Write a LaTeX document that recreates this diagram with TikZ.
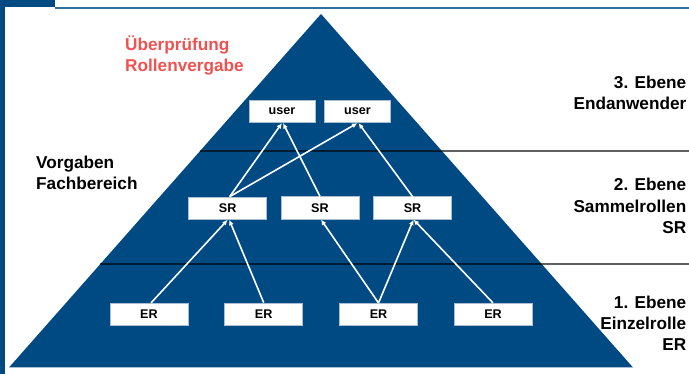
\documentclass[tikz,border=0pt]{standalone}
\usepackage{fontspec}
\setmainfont{Liberation Sans}
\usetikzlibrary{arrows.meta}
\definecolor{navy}{RGB}{0,74,132}
\definecolor{topline}{RGB}{52,110,158}
\definecolor{redtxt}{RGB}{240,82,82}
\definecolor{boxedge}{RGB}{170,190,210}
\tikzset{
  rolebox/.style={fill=white, draw=boxedge, line width=0.6pt, inner sep=0pt,
    minimum width=78pt, minimum height=22.5pt, font=\fontsize{12.6}{14}\selectfont\bfseries},
  userbox/.style={rolebox, minimum width=66pt},
  arr/.style={draw=white, line width=1.6pt, -{Latex[length=5.5pt,width=5pt]}},
  levelline/.style={draw=black, draw opacity=0.62, line width=1.3pt},
  biglabel/.style={inner sep=0pt, font=\fontsize{17.2}{21.3}\selectfont\bfseries}
}
\begin{document}
\begin{tikzpicture}[x=1pt,y=-1pt]
\useasboundingbox (0,0) rectangle (689,374);
\fill[white] (0,0) rectangle (689,374);
% frame decorations
\fill[navy] (0,0) rectangle (55,7.5);
\fill[navy] (0,0) rectangle (5,374);
\fill[topline] (55,6.6) rectangle (689,8.8);
% pyramid
\coordinate (apex) at (321,14);
\coordinate (bl) at (9,367.5);
\coordinate (br) at (633,367.5);
\fill[navy] (apex) -- (bl) -- (br) -- cycle;
% level lines
\coordinate (l1s) at (200,151);
\coordinate (l1e) at (689,151);
\coordinate (l2s) at (100,264);
\coordinate (l2e) at (689,264);
\draw[levelline] (l1s) -- (l1e);
\draw[levelline] (l2s) -- (l2e);
% boxes
\node[userbox] (u1) at (282,111.5) {user};
\node[userbox] (u2) at (357.5,111.5) {user};
\node[rolebox] (sr1) at (227.7,208.2) {SR};
\node[rolebox] (sr2) at (320,208) {SR};
\node[rolebox] (sr3) at (412.5,208) {SR};
\node[rolebox] (er1) at (149,314.5) {ER};
\node[rolebox] (er2) at (263.7,314.2) {ER};
\node[rolebox] (er3) at (378.5,314.5) {ER};
\node[rolebox] (er4) at (493,314.5) {ER};
% arrows
\draw[arr] ([xshift=2pt]sr1.north) -- (u1.south);
\draw[arr] ([xshift=2pt]sr1.north) -- (u2.south);
\draw[arr] (sr2.north) -- ([xshift=1pt]u1.south);
\draw[arr] (sr3.north) -- ([xshift=1pt]u2.south);
\draw[arr] ([xshift=2pt]er1.north) -- (sr1.south);
\draw[arr] (er2.north) -- ([xshift=1.5pt]sr1.south);
\draw[arr] (er3.north) -- ([xshift=1pt]sr2.south);
\draw[arr] (er3.north) -- ([xshift=1pt]sr3.south);
\draw[arr] (er4.north) -- ([xshift=1pt]sr3.south);
% labels (base anchor = baseline of last line)
\node[biglabel, text=redtxt, align=left, anchor=base west] (chk) at (125,71.5) {Überprüfung\\Rollenvergabe};
\node[biglabel, align=left, anchor=base west] (vorg) at (36,190) {Vorgaben\\Fachbereich};
\node[biglabel, align=right, anchor=base east] (lv3) at (686.5,110) {3. Ebene\\Endanwender};
\node[biglabel, align=right, anchor=base east] (lv2) at (686.5,233.5) {2. Ebene\\Sammelrollen\\SR};
\node[biglabel, align=right, anchor=base east] (lv1) at (686.5,350.7) {1. Ebene\\Einzelrolle\\ER};
\end{tikzpicture}
\end{document}
